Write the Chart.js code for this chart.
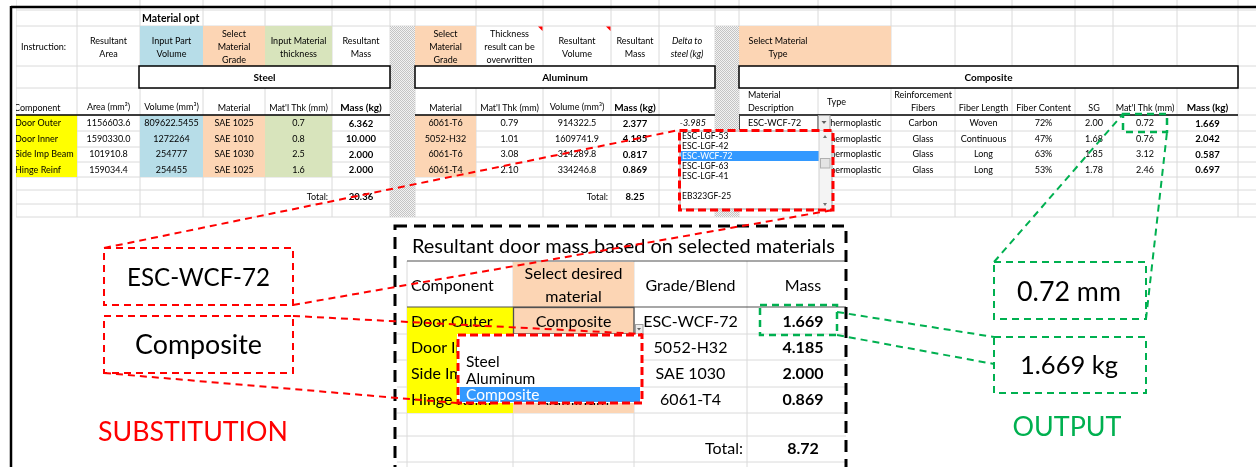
<!DOCTYPE html>
<html>
<head>
<meta charset="utf-8">
<script src="https://cdn.jsdelivr.net/npm/chart.js@4"></script>
<style>
  html, body { margin: 0; padding: 0; background: #fff; }
  canvas { display: block; }
</style>
</head>
<body>
<canvas id="sheet" width="1256" height="467"></canvas>
<script>
// ---- values ----
const components = ["Door Outer", "Door Inner", "Side Imp Beam", "Hinge Reinf"];

const steelArea = ["1156603.6", "1590330.0", "101910.8", "159034.4"];
const steelVolume = ["809622.5455", "1272264", "254777", "254455"];
const steelGrade = ["SAE 1025", "SAE 1010", "SAE 1030", "SAE 1025"];
const steelThk = ["0.7", "0.8", "2.5", "1.6"];
const steelMass = ["6.362", "10.000", "2.000", "2.000"];
const steelTotal = "20.36";

const alGrade = ["6061-T6", "5052-H32", "6061-T6", "6061-T4"];
const alThk = ["0.79", "1.01", "3.08", "2.10"];
const alVolume = ["914322.5", "1609741.9", "314289.8", "334246.8"];
const alMass = ["2.377", "4.185", "0.817", "0.869"];
const alDelta = ["-3.985", "-5.815", "-1.183", "-1.131"];
const alTotal = "8.25";
const alDeltaTotal = "-12.11";

const compDesc = ["ESC-WCF-72", "ESC-LGF-42", "ESC-LGF-63", "ESC-LGF-53"];
const compType = ["Thermoplastic", "Thermoplastic", "Thermoplastic", "Thermoplastic"];
const compFiber = ["Carbon", "Glass", "Glass", "Glass"];
const compLength = ["Woven", "Continuous", "Long", "Long"];
const compContent = ["72%", "47%", "63%", "53%"];
const compSG = ["2.00", "1.68", "1.85", "1.78"];
const compThk = ["0.72", "0.76", "3.12", "2.46"];
const compMass = ["1.669", "2.042", "0.587", "0.697"];

const gradeOptions = ["ESC-LGF-53", "ESC-LGF-42", "ESC-WCF-72", "ESC-LGF-63", "ESC-LGF-41", "", "EB323GF-25"];
const gradeSelected = 2;

const selMaterial = ["Composite", "Aluminum", "Steel", "Aluminum"];
const selGrade = ["ESC-WCF-72", "5052-H32", "SAE 1030", "6061-T4"];
const selMass = ["1.669", "4.185", "2.000", "0.869"];
const selTotal = "8.72";
const materialOptions = ["", "Steel", "Aluminum", "Composite"];
const materialSelected = 3;

// ---- layout (sheet units = px) ----
const steelCols = [16, 77, 140, 203, 265, 332, 390];
const alCols = [415, 476, 543, 611, 659, 715];
const compCols = [739, 818, 891, 955, 1012, 1075, 1113, 1177, 1238];
const sheetRows = [10, 26, 66, 88, 115, 131, 147, 162, 177, 190, 204, 217];
const dataY = [123.5, 139, 154.5, 170];
const totalY = 197;
const resCols = [407, 513, 634, 747, 846];
const resRows = [261, 307, 334, 360, 387, 413, 436, 462];
const resY = [322, 348, 374, 400];

const FONT = "Lato, 'Open Sans', sans-serif";
const GRID = "#dadada";
const YELLOW = "#ffff00", BLUE = "#b7dde8", PEACH = "#fcd5b4", GREEN = "#d8e4bc";
const RED = "#ff0000", OUT = "#00b050", PICK = "#3399ff";

const sheetPlugin = {
    id: "sheet",
    beforeDraw(chart) {
        const ctx = chart.ctx;
        const X = v => chart.scales.x.getPixelForValue(v);
        const Y = v => chart.scales.y.getPixelForValue(v);

        function box(x0, y0, x1, y1, fill) {
            ctx.fillStyle = fill;
            ctx.fillRect(X(x0), Y(y0), X(x1) - X(x0), Y(y1) - Y(y0));
        }
        function frame(x0, y0, x1, y1, color, width, dash) {
            ctx.save();
            ctx.strokeStyle = color;
            ctx.lineWidth = width;
            ctx.setLineDash(dash || []);
            ctx.strokeRect(X(x0), Y(y0), X(x1) - X(x0), Y(y1) - Y(y0));
            ctx.restore();
        }
        function line(x0, y0, x1, y1, color, width, dash) {
            ctx.save();
            ctx.strokeStyle = color;
            ctx.lineWidth = width;
            ctx.setLineDash(dash || []);
            ctx.beginPath();
            ctx.moveTo(X(x0), Y(y0));
            ctx.lineTo(X(x1), Y(y1));
            ctx.stroke();
            ctx.restore();
        }
        function text(str, x, y, o = {}) {
            let size = o.size || 9;
            const font = s => `${o.italic ? "italic " : ""}${o.bold ? "bold " : ""}${s}px ${FONT}`;
            ctx.font = font(size);
            if (o.w) {
                size = size * o.w / ctx.measureText(str).width;
                ctx.font = font(size);
            }
            ctx.fillStyle = o.color || "#000";
            ctx.textAlign = o.align || "center";
            ctx.textBaseline = "middle";
            const lines = String(str).split("\n");
            const lh = o.lh || 13;
            lines.forEach((s, i) => {
                ctx.fillText(s, X(x), Y(y + (i - (lines.length - 1) / 2) * lh));
            });
        }
        const mid = (cols, i) => (cols[i] + cols[i + 1]) / 2;

        box(0, 0, 1256, 467, "#ffffff");

        // ---------- spreadsheet on top ----------
        ctx.save();
        ctx.beginPath();
        ctx.rect(X(16), Y(0), X(1256) - X(16), Y(220) - Y(0));
        ctx.clip();

        const allCols = steelCols.concat(alCols, compCols);
        allCols.forEach(c => line(c, 0, c, 217, GRID, 1));
        sheetRows.forEach(r => line(16, r, 1256, r, GRID, 1));

        // instruction fills
        box(140, 26, 203, 66, BLUE);
        box(203, 26, 265, 66, PEACH);
        box(265, 26, 332, 66, GREEN);
        box(415, 26, 476, 66, PEACH);
        box(739, 26, 891, 66, PEACH);
        // data fills
        box(16, 115, 77, 177, YELLOW);
        box(140, 115, 203, 177, BLUE);
        box(203, 115, 265, 177, PEACH);
        box(265, 115, 332, 177, GREEN);
        box(415, 115, 476, 177, PEACH);

        // hatched separators
        const pc = document.createElement("canvas");
        pc.width = 2; pc.height = 2;
        const pctx = pc.getContext("2d");
        pctx.fillStyle = "#f2f2f2"; pctx.fillRect(0, 0, 2, 2);
        pctx.fillStyle = "#c4c4c4"; pctx.fillRect(0, 0, 1, 1); pctx.fillRect(1, 1, 1, 1);
        const hatch = ctx.createPattern(pc, "repeat");
        box(390, 26, 415, 217, hatch);
        box(715, 26, 739, 217, hatch);

        // section title boxes
        [[139, 390, "Steel"], [415, 715, "Aluminum"], [739, 1238, "Composite"]].forEach(([a, b, t]) => {
            box(a, 66, b, 88, "#ffffff");
            frame(a, 66, b, 88, "#000", 1.5);
            text(t, (a + b) / 2, 77.5, { size: 10, bold: true });
        });
        line(16, 115, 390, 115, "#000", 1.3);
        line(415, 115, 715, 115, "#000", 1.3);
        line(739, 115, 1238, 115, "#000", 1.3);

        ctx.save();
        ctx.beginPath();
        ctx.rect(X(140), Y(10), X(203) - X(140), Y(26) - Y(10));
        ctx.clip();
        text("Material opt", 142, 18.5, { size: 10.5, bold: true, align: "left" });
        ctx.restore();

        // steel block
        text("Instruction:", 43.5, 47);
        text("Resultant\nArea", mid(steelCols, 1), 47.5);
        text("Input Part\nVolume", mid(steelCols, 2), 47.5);
        text("Select\nMaterial\nGrade", mid(steelCols, 3), 47);
        text("Input Material\nthickness", mid(steelCols, 4), 47.5);
        text("Resultant\nMass", mid(steelCols, 5), 47.5);
        text("Component", 14, 108, { align: "left" });
        text("Area (mm²)", mid(steelCols, 1), 107);
        text("Volume (mm³)", mid(steelCols, 2), 107);
        text("Material", mid(steelCols, 3), 108);
        text("Mat'l Thk (mm)", mid(steelCols, 4), 108);
        text("Mass (kg)", mid(steelCols, 5), 107.5, { size: 10, bold: true });
        components.forEach((c, i) => {
            const y = dataY[i];
            text(c, 15, y, { align: "left" });
            text(steelArea[i], mid(steelCols, 1), y);
            text(steelVolume[i], mid(steelCols, 2), y);
            text(steelGrade[i], mid(steelCols, 3), y);
            text(steelThk[i], mid(steelCols, 4), y);
            text(steelMass[i], mid(steelCols, 5), y, { size: 9.5, bold: true });
        });
        text("Total:", 328, totalY, { align: "right" });
        text(steelTotal, mid(steelCols, 5), totalY, { size: 9.5, bold: true });

        // aluminum block
        text("Select\nMaterial\nGrade", mid(alCols, 0), 47);
        text("Thickness\nresult can be\noverwritten", mid(alCols, 1), 47);
        text("Resultant\nVolume", mid(alCols, 2), 47.5);
        text("Resultant\nMass", mid(alCols, 3), 47.5);
        text("Delta to\nsteel (kg)", mid(alCols, 4), 47.5, { italic: true });
        [543, 611].forEach(c => {
            ctx.fillStyle = RED;
            ctx.beginPath();
            ctx.moveTo(X(c - 5), Y(26.5));
            ctx.lineTo(X(c - 0.5), Y(26.5));
            ctx.lineTo(X(c - 0.5), Y(31));
            ctx.closePath();
            ctx.fill();
        });
        text("Material", mid(alCols, 0), 108);
        text("Mat'l Thk (mm)", mid(alCols, 1), 108);
        text("Volume (mm³)", mid(alCols, 2), 107);
        text("Mass (kg)", mid(alCols, 3), 107.5, { size: 10, bold: true });
        alGrade.forEach((g, i) => {
            const y = dataY[i];
            text(g, mid(alCols, 0), y);
            text(alThk[i], mid(alCols, 1), y);
            text(alVolume[i], mid(alCols, 2), y);
            text(alMass[i], mid(alCols, 3), y, { size: 9.5, bold: true });
            text(alDelta[i], 706, y, { italic: true, align: "right" });
        });
        text("Total:", 608, totalY, { align: "right" });
        text(alTotal, mid(alCols, 3), totalY, { size: 9.5, bold: true });
        text(alDeltaTotal, 706, totalY, { italic: true, align: "right" });

        // composite block
        text("Select Material\nType", 778, 47.5);
        text("Material\nDescription", 748, 101.5, { align: "left", lh: 12.5 });
        text("Type", 827, 102.5, { align: "left" });
        text("Reinforcement\nFibers", mid(compCols, 2), 101.5, { lh: 12.5 });
        text("Fiber Length", mid(compCols, 3), 108);
        text("Fiber Content", mid(compCols, 4), 108);
        text("SG", mid(compCols, 5), 108);
        text("Mat'l Thk (mm)", mid(compCols, 6), 108);
        text("Mass (kg)", mid(compCols, 7), 107.5, { size: 10, bold: true });
        compType.forEach((t, i) => {
            const y = dataY[i];
            text(compDesc[i], 748, y, { align: "left" });
            text(t, 825, y, { align: "left" });
            text(compFiber[i], mid(compCols, 2), y);
            text(compLength[i], mid(compCols, 3), y);
            text(compContent[i], mid(compCols, 4), y);
            text(compSG[i], mid(compCols, 5), y);
            text(compThk[i], mid(compCols, 6), y);
            text(compMass[i], mid(compCols, 7), y, { size: 9.5, bold: true });
        });
        // active cell + arrow button
        frame(739.5, 115.5, 818, 131, "#404040", 1);
        box(818, 115, 830, 131, "#f0f0f0");
        frame(818.5, 115.5, 830, 131, "#a0a0a0", 1);
        ctx.fillStyle = "#606060";
        ctx.beginPath();
        ctx.moveTo(X(821.5), Y(121)); ctx.lineTo(X(826.5), Y(121)); ctx.lineTo(X(824), Y(124)); ctx.closePath(); ctx.fill();

        // grade drop-down list
        box(679, 130, 833, 210, "#ffffff");
        frame(680, 131, 832, 209, "#9a9a9a", 1);
        box(681, 151, 819, 161, PICK);
        gradeOptions.forEach((g, i) => {
            text(g, 682, 136 + i * 10, { size: 8.5, align: "left", color: i === gradeSelected ? "#ffffff" : "#000" });
        });
        box(819, 131, 831, 209, "#f4f4f4");
        line(819, 131, 819, 209, "#d0d0d0", 1);
        box(820, 158, 830, 168, "#e4e4e4");
        frame(820.5, 158.5, 830, 168, "#b0b0b0", 1);
        ctx.fillStyle = "#707070";
        ctx.beginPath(); ctx.moveTo(X(823), Y(138)); ctx.lineTo(X(827), Y(138)); ctx.lineTo(X(825), Y(135)); ctx.closePath(); ctx.fill();
        ctx.beginPath(); ctx.moveTo(X(823), Y(203)); ctx.lineTo(X(827), Y(203)); ctx.lineTo(X(825), Y(206)); ctx.closePath(); ctx.fill();
        frame(679.5, 130.5, 833, 210, RED, 3, [8, 4]);
        ctx.restore();

        // outer frame of the sheet
        line(11, 7, 1256, 7, "#000", 2.5);
        line(11, 6, 11, 467, "#000", 2.5);

        // ---------- resulting table ----------
        resCols.slice(0, 4).forEach(c => line(c, 261, c, 467, GRID, 1));
        resRows.slice(2).forEach(r => line(397, r, 846, r, GRID, 1));
        box(513, 262, 634, 413, PEACH);
        box(407, 307, 513, 413, YELLOW);
        line(407, 261, 846, 261, "#505050", 1.2);
        line(407, 307, 846, 307, "#505050", 1.2);

        text("Resultant door mass based on selected materials", 412, 247, { size: 18, align: "left", w: 423 });
        text("Component", 411, 285.5, { size: 16, align: "left" });
        text("Select desired\nmaterial", mid(resCols, 1), 285.5, { size: 16, lh: 23 });
        text("Grade/Blend", mid(resCols, 2), 285.5, { size: 16 });
        text("Mass", 803, 285.5, { size: 16 });
        components.forEach((c, i) => {
            const y = resY[i];
            text(c, 411, y, { size: 16, align: "left" });
            text(selMaterial[i], mid(resCols, 1), y, { size: 16 });
            text(selGrade[i], mid(resCols, 2), y, { size: 16 });
            text(selMass[i], 803, y, { size: 16, bold: true });
        });
        text("Total:", 743, 449, { size: 16, align: "right" });
        text(selTotal, 803, 449, { size: 16, bold: true });

        // active cell + arrow
        frame(513.5, 307.5, 634, 334, "#505050", 1.3);
        box(635, 324, 643, 334, "#ececec");
        frame(635.5, 324.5, 643, 334, "#a0a0a0", 1);
        ctx.fillStyle = "#606060";
        ctx.beginPath(); ctx.moveTo(X(637), Y(328)); ctx.lineTo(X(641), Y(328)); ctx.lineTo(X(639), Y(330.5)); ctx.closePath(); ctx.fill();

        // material drop-down list
        box(457, 334, 642, 403, "#ffffff");
        box(460, 387, 640, 402, PICK);
        materialOptions.forEach((m, i) => {
            text(m, 466, 345 + i * 16.8, { size: 15.5, align: "left", color: i === materialSelected ? "#ffffff" : "#000" });
        });
        frame(458, 335, 642, 403, RED, 3, [8, 4]);

        // dashed border around the result table
        frame(395, 226, 846, 480, "#000", 3, [12, 7]);

        // ---------- callouts ----------
        const dash = [7, 5];
        line(104, 248, 679, 130, RED, 2, dash);
        line(293, 305, 833, 210, RED, 2, dash);
        line(293, 316, 642, 334, RED, 2, dash);
        line(104, 373, 457, 403, RED, 2, dash);
        frame(104, 248, 293, 305, RED, 2, dash);
        frame(104, 316, 293, 373, RED, 2, dash);
        text("ESC-WCF-72", 198.5, 278, { size: 24, w: 143 });
        text("Composite", 198.5, 345, { size: 24, w: 127 });
        text("SUBSTITUTION", 193, 432, { size: 27, w: 190, color: RED });

        line(994, 262, 1123, 114, OUT, 2, dash);
        line(1146, 319, 1167, 132, OUT, 2, dash);
        line(837, 312, 994, 337, OUT, 2, dash);
        line(837, 335, 994, 364, OUT, 2, dash);
        frame(1123, 114, 1167, 132, OUT, 2.5, dash);
        frame(760, 305, 837, 335, OUT, 2.5, dash);
        frame(994, 262, 1146, 319, OUT, 2, dash);
        frame(994, 337, 1146, 393, OUT, 2, dash);
        text("0.72 mm", 1069, 292, { size: 24, w: 104 });
        text("1.669 kg", 1069, 366, { size: 24, w: 98 });
        text("OUTPUT", 1067, 427, { size: 27, w: 109, color: OUT });
    }
};

new Chart(document.getElementById("sheet"), {
    type: "scatter",
    data: { datasets: [] },
    options: {
        responsive: false,
        animation: false,
        events: [],
        layout: { padding: 0 },
        plugins: {
            legend: { display: false },
            tooltip: { enabled: false }
        },
        scales: {
            x: { type: "linear", min: 0, max: 1256, display: false },
            y: { type: "linear", min: 0, max: 467, reverse: true, display: false }
        }
    },
    plugins: [sheetPlugin]
});
</script>
</body>
</html>
